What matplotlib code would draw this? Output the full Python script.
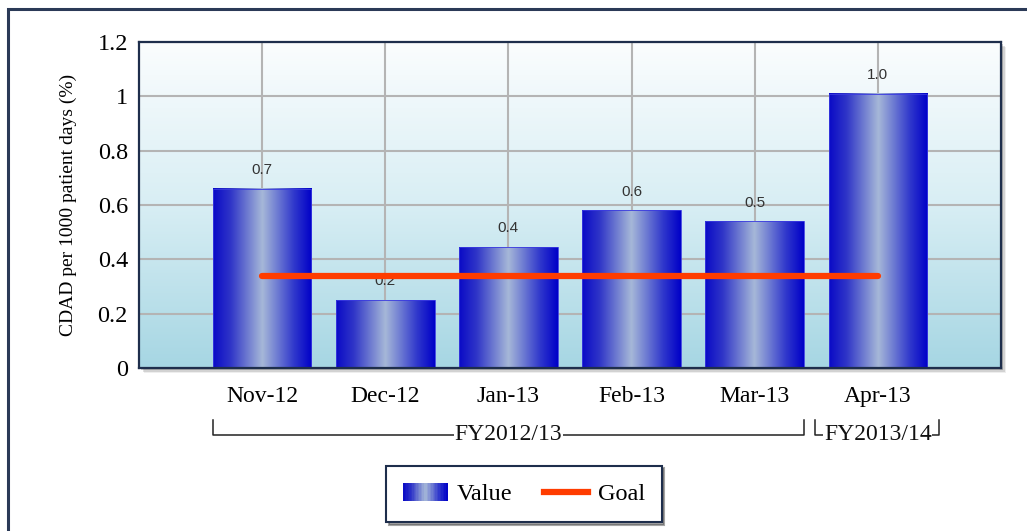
import matplotlib
matplotlib.use("Agg")
import matplotlib.pyplot as plt
import numpy as np
from matplotlib.colors import LinearSegmentedColormap
from matplotlib.patches import Rectangle
from matplotlib.legend_handler import HandlerBase
from matplotlib.lines import Line2D
import matplotlib.transforms as mtrans

# ---------------- data ----------------
months = ['Nov-12', 'Dec-12', 'Jan-13', 'Feb-13', 'Mar-13', 'Apr-13']
values = [0.66, 0.25, 0.445, 0.58, 0.54, 1.01]
value_labels = ['0.7', '0.2', '0.4', '0.6', '0.5', '1.0']
goal = [0.34, 0.34, 0.34, 0.34, 0.34, 0.34]
y_ticks = [0, 0.2, 0.4, 0.6, 0.8, 1, 1.2]
y_tick_labels = ['0', '0.2', '0.4', '0.6', '0.8', '1', '1.2']
groups = ['FY2012/13', 'FY2013/14']
group_first = [0, 5]
group_last = [4, 5]

SERIF = ['Liberation Serif', 'DejaVu Serif']
SANS = ['Liberation Sans', 'DejaVu Sans']

W, H = 1027, 531
fig = plt.figure(figsize=(W / 100, H / 100), dpi=100)
fig.patch.set_facecolor('white')

def px(x, y, w, h):
    return (x / W, 1 - (y + h) / H, w / W, h / H)

# outer frame
frame = Rectangle((8 / W, -0.1), 1.2, (H - 9) / H + 0.1, transform=fig.transFigure,
                  facecolor='none', edgecolor='#2b3a57', linewidth=2.2, zorder=-5)
fig.patches.append(frame)

ax_l, ax_t, ax_r, ax_b = 139, 42, 1001, 368
ax = fig.add_axes(px(ax_l, ax_t, ax_r - ax_l, ax_b - ax_t))

# axes shadow
for i, a in enumerate([0.25, 0.15, 0.08]):
    off = 2 + i * 1.5
    sh = Rectangle(((ax_l + off) / W, (H - ax_b - off) / H), (ax_r - ax_l) / W, (ax_b - ax_t) / H,
                   transform=fig.transFigure, facecolor='#303030', edgecolor='none',
                   alpha=a, zorder=-1)
    fig.patches.append(sh)

x = np.arange(len(months))

# background gradient
bg = LinearSegmentedColormap.from_list('bg', ['#a6d6e3', '#d8eef4', '#fbfdfe'])
ax.imshow(np.linspace(0, 1, 256).reshape(-1, 1), cmap=bg, aspect='auto',
          extent=(0, 1, 0, 1), transform=ax.transAxes, origin='lower', zorder=0)

ax.set_yticks(y_ticks)
ax.set_yticklabels(y_tick_labels, fontfamily=SERIF, fontsize=17.5)
ax.set_xticks(x)
ax.set_xticklabels(months, fontfamily=SERIF, fontsize=17)
ax.tick_params(axis='both', length=0)
ax.tick_params(axis='y', pad=8)
ax.tick_params(axis='x', pad=13)
ax.grid(True, color='#b4b4b4', linewidth=1.5, zorder=1)
ax.set_axisbelow(True)
for s in ax.spines.values():
    s.set_color('#1e2e4c')
    s.set_linewidth(1.6)
    s.set_zorder(10)

ax.set_ylabel('CDAD per 1000 patient days (%)', fontfamily=SERIF, fontsize=14, labelpad=15)

# bars with horizontal gradient
bar_cmap = LinearSegmentedColormap.from_list(
    'bar', [(0, '#0a0ac6'), (0.18, '#3036c8'), (0.5, '#a6b8d8'), (0.82, '#3038cc'), (1, '#0000c8')])
bars = ax.bar(x, values, width=0.8, color='none', edgecolor='#3a3ae0', linewidth=0.6, zorder=3)
grad = np.linspace(0, 1, 256).reshape(1, -1)
for b in bars:
    bx, bw, bh = b.get_x(), b.get_width(), b.get_height()
    ax.imshow(grad, cmap=bar_cmap, aspect='auto', extent=(bx, bx + bw, 0, bh),
              origin='lower', zorder=2.5, interpolation='bilinear')
ax.set_xlim(-1, len(months))
ax.set_ylim(0, 1.2)

# value labels
for xi, v, lab in zip(x, values, value_labels):
    ax.annotate(lab, (xi, v), xytext=(0, 13.5), textcoords='offset points',
                ha='center', va='center', fontsize=11, color='#333333',
                fontfamily=SANS, zorder=4)

# goal line
ax.plot(x, goal, color='#ff3c00', linewidth=4.5, solid_capstyle='round', zorder=5)

# group brackets
trans = mtrans.blended_transform_factory(ax.transData, ax.transAxes)
y_line = -(435 - ax_b) / (ax_b - ax_t)
y_top = -(420 - ax_b) / (ax_b - ax_t)
spans = [(-0.4, 0.4), (-0.51, 0.5)]
for g, f, l, (dl, dr) in zip(groups, group_first, group_last, spans):
    x0, x1 = f + dl, l + dr
    ax.plot([x0, x0, x1, x1], [y_top, y_line, y_line, y_top], color='#222222',
            linewidth=1.1, transform=trans, clip_on=False, zorder=6)
    ax.text((f + l) / 2, y_line, g, transform=trans, ha='center', va='center',
            fontsize=17, fontfamily=SERIF, color='#111111', clip_on=False, zorder=7,
            bbox=dict(facecolor='white', edgecolor='none', pad=0.5))

# legend with gradient patch
class GradHandler(HandlerBase):
    def create_artists(self, legend, orig_handle, xdescent, ydescent, width, height,
                       fontsize, trans):
        n = 30
        arts = []
        for i in range(n):
            r = Rectangle((-xdescent + width * i / n, -ydescent), width / n + 0.3, height,
                          facecolor=bar_cmap((i + 0.5) / n), edgecolor='none', transform=trans)
            arts.append(r)
        return arts

grad_handle = Rectangle((0, 0), 1, 1)
goal_handle = Line2D([], [], color='#ff3c00', linewidth=4.5)
leg = fig.legend([grad_handle, goal_handle], ['Value', 'Goal'],
                 handler_map={Rectangle: GradHandler()},
                 loc='center', bbox_to_anchor=(524 / W, 1 - 494 / H), ncol=2,
                 prop={'family': SERIF, 'size': 17.5}, frameon=True, fancybox=False,
                 shadow=True, handlelength=1.8, handleheight=0.78, columnspacing=1.3,
                 borderpad=0.7, handletextpad=0.4)
leg.get_frame().set_edgecolor('#1e2e4c')
leg.get_frame().set_linewidth(1.5)

fig.savefig('out.png', dpi=100)
